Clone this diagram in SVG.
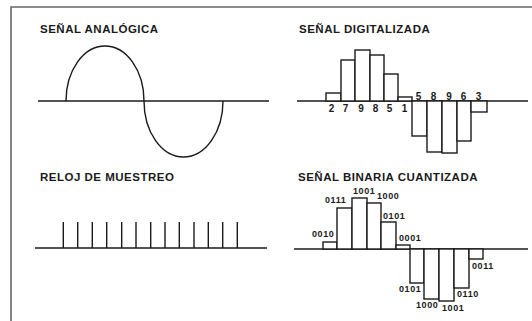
<svg xmlns="http://www.w3.org/2000/svg" width="532" height="321" viewBox="0 0 532 321">
<style>
.frame{stroke:#666;stroke-width:1.6;fill:none}
.ln{stroke:#1a1a1a;stroke-width:1.4;fill:none}
.bar{stroke:#1a1a1a;stroke-width:1.4;fill:#fff}
.title{font-family:"Liberation Sans",Arial,sans-serif;font-weight:bold;font-size:11.5px;letter-spacing:0.5px;fill:#1a1a1a}
.dig{font-family:"Liberation Sans",Arial,sans-serif;font-weight:bold;font-size:10px;fill:#1a1a1a;text-anchor:middle}
.bin{font-family:"Liberation Sans",Arial,sans-serif;font-weight:bold;font-size:9px;letter-spacing:0.6px;fill:#1a1a1a}
</style>
<rect width="532" height="321" fill="#fff"/>
<path class="frame" d="M11,321 V7 H532"/>

<g id="analog">
<text class="title" x="40" y="33">SEÑAL ANALÓGICA</text>
<line class="ln" x1="38" y1="101" x2="269" y2="101"/>
<path class="ln" d="M66,101 A39,55 0 0 1 144,101 A39.5,56 0 0 0 223,101"/>
</g>

<g id="digital">
<text class="title" x="299" y="33">SEÑAL DIGITALIZADA</text>
<line class="ln" x1="297" y1="101" x2="528" y2="101"/>
<rect class="bar" x="326" y="93" width="15" height="8"/>
<rect class="bar" x="341" y="60" width="14" height="41"/>
<rect class="bar" x="355" y="50" width="15" height="51"/>
<rect class="bar" x="370" y="55" width="14" height="46"/>
<rect class="bar" x="384" y="74" width="14" height="27"/>
<rect class="bar" x="398" y="97" width="14" height="4"/>
<rect class="bar" x="412" y="101" width="15" height="35"/>
<rect class="bar" x="427" y="101" width="15" height="51"/>
<rect class="bar" x="442" y="101" width="15" height="52"/>
<rect class="bar" x="457" y="101" width="14" height="40"/>
<rect class="bar" x="471" y="101" width="16" height="11"/>
<text class="dig" x="331.5" y="111.5">2</text>
<text class="dig" x="345.5" y="111.5">7</text>
<text class="dig" x="361" y="111.5">9</text>
<text class="dig" x="375.5" y="111.5">8</text>
<text class="dig" x="389.5" y="111.5">5</text>
<text class="dig" x="404.5" y="111.5">1</text>
<text class="dig" x="418.5" y="99.5">5</text>
<text class="dig" x="433.5" y="99.5">8</text>
<text class="dig" x="449" y="99.5">9</text>
<text class="dig" x="463.5" y="99.5">6</text>
<text class="dig" x="478.5" y="99.5">3</text>
</g>

<g id="clock">
<text class="title" x="40" y="181">RELOJ DE MUESTREO</text>
<line class="ln" x1="35" y1="248" x2="267" y2="248"/>
<path class="ln" d="M63.3,222V248 M77.7,222V248 M92.3,222V248 M106.7,222V248 M121.7,222V248 M136,222V248 M150.7,222V248 M165,222V248 M179.3,222V248 M194,222V248 M208.3,222V248 M222.7,222V248 M237.3,222V248"/>
</g>

<g id="binary">
<text class="title" x="298" y="181">SEÑAL BINARIA CUANTIZADA</text>
<line class="ln" x1="294" y1="249" x2="528" y2="249"/>
<rect class="bar" x="323" y="242" width="14" height="7"/>
<rect class="bar" x="337" y="208" width="15" height="41"/>
<rect class="bar" x="352" y="198" width="15" height="51"/>
<rect class="bar" x="367" y="203" width="14" height="46"/>
<rect class="bar" x="381" y="222" width="15" height="27"/>
<rect class="bar" x="396" y="245" width="14" height="4"/>
<rect class="bar" x="410" y="249" width="14" height="34"/>
<rect class="bar" x="424" y="249" width="15" height="50"/>
<rect class="bar" x="439" y="249" width="15" height="52"/>
<rect class="bar" x="454" y="249" width="15" height="39"/>
<rect class="bar" x="469" y="249" width="14" height="10"/>
<text class="bin" x="312" y="237">0010</text>
<text class="bin" x="325" y="203">0111</text>
<text class="bin" x="353" y="194">1001</text>
<text class="bin" x="377" y="199">1000</text>
<text class="bin" x="383" y="219">0101</text>
<text class="bin" x="399" y="241">0001</text>
<text class="bin" x="399" y="292">0101</text>
<text class="bin" x="416" y="308">1000</text>
<text class="bin" x="442" y="311">1001</text>
<text class="bin" x="457" y="297">0110</text>
<text class="bin" x="472" y="269">0011</text>
</g>
</svg>
